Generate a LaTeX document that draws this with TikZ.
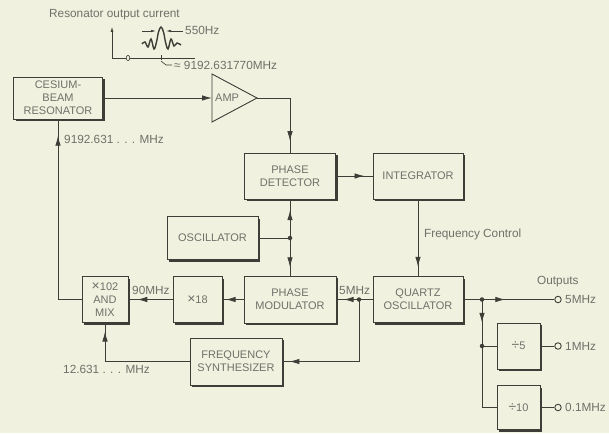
\documentclass[tikz,border=0pt]{standalone}
\usepackage{fontspec}
\setmainfont{Liberation Sans}
\usetikzlibrary{arrows.meta,shadows,decorations.markings}
\definecolor{bg}{RGB}{240,241,222}
\definecolor{ln}{RGB}{62,62,56}
\definecolor{tx}{RGB}{112,112,106}
\newcommand{\bigsym}[1]{{\fontsize{14}{13}\selectfont #1}}
\begin{document}
\begin{tikzpicture}[x=1pt,y=-1pt,
  box/.style={draw=ln, line width=0.9pt, fill=bg, text=tx, align=center,
    font=\fontsize{11}{13}\selectfont, inner sep=0pt,
    drop shadow={shadow xshift=2pt, shadow yshift=-2pt, fill=ln, opacity=1}},
  lbl/.style={text=tx, font=\fontsize{11.8}{13}\selectfont, inner sep=0pt, anchor=west},
  wire/.style={draw=ln, line width=0.9pt},
  thin wire/.style={draw=ln, line width=0.6pt},
  jdot/.style={circle, fill=ln, inner sep=0pt, minimum size=4.5pt},
  outc/.style={circle, draw=ln, fill=bg, line width=0.9pt, inner sep=0pt, minimum size=6.5pt},
  tipat/.style={postaction={decorate,decoration={markings,
    mark=at position #1 with {\arrow{Latex[length=10pt,width=5.5pt]}}}}},
  >={Latex[length=10pt,width=5.5pt]}
]
\fill[bg] (0,0) rectangle (609,433);
\useasboundingbox (0,0) rectangle (609,433);

% ---------- inset: resonator output current ----------
\node[lbl] (title) at (49,15) {Resonator output current};
\coordinate (org) at (112,58);
\coordinate (ytop) at (112,27);
\coordinate (xend) at (195,58);
\draw[thin wire, -{Latex[length=5pt,width=3pt]}] (org) -- (ytop);
\draw[thin wire] (org) -- (xend);
\draw[thin wire, fill=bg] (128,58) ellipse (1.8 and 2.6);
\draw[thin wire] (161,55.5) -- (161,60.5);
\draw[ln, line width=1.4pt] plot[smooth, tension=0.6] coordinates {
  (142,44) (145,42) (148,47) (151,39) (154,49) (156.5,42) (158.5,32) (161,27)
  (163.5,32) (165.5,42) (168,49) (171,39) (174,46) (177,43) (181,45)};
\coordinate (dl) at (142,31);
\coordinate (dr) at (183,31);
\draw[thin wire, -{Latex[length=5pt,width=2.5pt]}] (dl) -- (156,31);
\draw[thin wire, -{Latex[length=5pt,width=2.5pt]}] (dr) -- (166,31);
\node[lbl] (bw) at (185,30) {550Hz};
\coordinate (nu) at (161,61);
\draw[thin wire] (nu) -- (166,65) -- (172,65);
\node[lbl] (fr) at (174,65) {≈ 9192.631770MHz};

% ---------- blocks ----------
\node[box, minimum width=89pt, minimum height=42pt] (res) at (58,98) {CESIUM-\\BEAM\\RESONATOR};
\coordinate (ampL) at (212,98);
\coordinate (ampT) at (257,98);
\draw[wire, fill=bg] (212,74) -- (ampT) -- (212,122) -- cycle;
\node[text=tx, font=\fontsize{11}{13}\selectfont, inner sep=0pt, anchor=west] (amp) at (215,98) {AMP};

\node[box, minimum width=91pt, minimum height=46pt] (pd) at (290,176) {PHASE\\DETECTOR};
\node[box, minimum width=90pt, minimum height=46pt] (int) at (418,176) {INTEGRATOR};
\node[box, minimum width=91pt, minimum height=43pt] (osc) at (212.5,238) {OSCILLATOR};
\node[box, minimum width=92pt, minimum height=47pt] (pm) at (290,299.5) {PHASE\\MODULATOR};
\node[box, minimum width=49pt, minimum height=46pt] (x18) at (197.5,299.5) {\bigsym{×}18};
\node[box, minimum width=46pt, minimum height=46pt] (mix) at (105,299.5) {\bigsym{×}102\\AND\\MIX};
\node[box, minimum width=90pt, minimum height=46pt] (qo) at (418,299.5) {QUARTZ\\OSCILLATOR};
\node[box, minimum width=92pt, minimum height=47pt] (fs) at (236,361.5) {FREQUENCY\\SYNTHESIZER};
\node[box, minimum width=43pt, minimum height=46pt] (d5) at (518.5,346) {\bigsym{÷}5};
\node[box, minimum width=43pt, minimum height=44pt] (d10) at (518.5,407.5) {\bigsym{÷}10};

\coordinate (jo) at (290,238);
\coordinate (j5) at (359,299.5);
\coordinate (jq) at (482,299.5);
\coordinate (jd) at (482,346);
\node[outc] (o5) at (558,299.5) {};
\node[outc] (o1) at (558,346) {};
\node[outc] (o01) at (558,407.5) {};

% ---------- connectors ----------
\draw[wire, ->] (res.east) -- (ampL);
\draw[wire, tipat=0.87] (ampT) -| (pd.north);
\draw[wire, tipat=0.78] (pd.east) -- (int.west);
\draw[wire, tipat=0.88] (int.south) -- (qo.north);
\draw[wire] (osc.east) -- (jo);
\draw[wire, tipat=0.72] (jo) -- (pd.south);
\draw[wire, tipat=0.78] (jo) -- (pm.north);
\draw[wire, tipat=0.85] (pm.west) -- (x18.east);
\draw[wire, tipat=0.8] (x18.west) -- (mix.east);
\draw[wire, tipat=0.92] (mix.west) -| (res.south);
\draw[wire, tipat=0.93] (fs.west) -| (mix.south);
\draw[wire, tipat=0.8] (qo.west) -- (pm.east);
\draw[wire, tipat=0.95] (j5) |- (fs.east);
\draw[wire, tipat=0.46] (qo.east) -- (o5.west);
\draw[wire, tipat=0.19] (jq) |- (d10.west);
\draw[wire] (jd) -- (d5.west);
\draw[wire] (d5.east) -- (o1.west);
\draw[wire] (d10.east) -- (o01.west);
\foreach \j in {jo,j5,jq,jd} \node[jdot] at (\j) {};

% ---------- labels ----------
\node[lbl] (l1) at (64,139) {9192.631 . . . MHz};
\node[lbl] (l2) at (132,290) {90MHz};
\node[lbl] (l3) at (339,290) {5MHz};
\node[lbl] (l4) at (63,369) {12.631 . . . MHz};
\node[lbl] (l5) at (424,234) {Frequency Control};
\node[lbl] (l6) at (537,282) {Outputs};
\node[lbl] (l7) at (565,299.5) {5MHz};
\node[lbl] (l8) at (565,346) {1MHz};
\node[lbl] (l9) at (565,407.5) {0.1MHz};
\end{tikzpicture}
\end{document}
